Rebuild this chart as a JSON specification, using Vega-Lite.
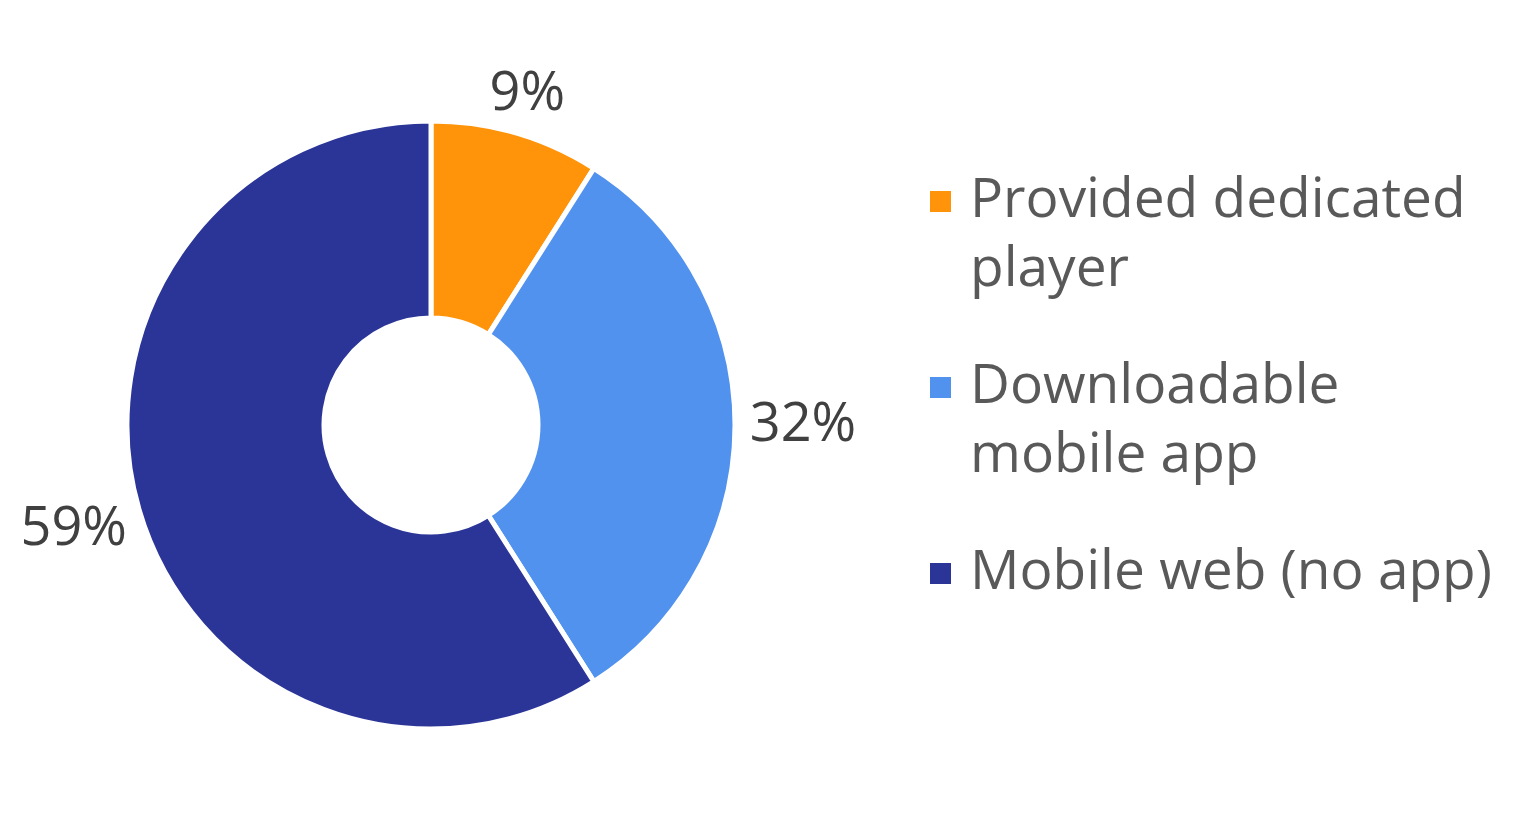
{
  "$schema": "https://vega.github.io/schema/vega-lite/v6.json",
  "width": 862,
  "height": 800,
  "padding": {"left": 0, "top": 25, "right": 0, "bottom": 0},
  "background": "white",
  "data": {
    "values": [
      {"category": "Provided dedicated player", "share": 0.09},
      {"category": "Downloadable mobile app", "share": 0.32},
      {"category": "Mobile web (no app)", "share": 0.59}
    ]
  },
  "encoding": {
    "theta": {"field": "share", "type": "quantitative", "stack": true},
    "order": {"field": "share", "type": "quantitative", "sort": "ascending"},
    "color": {
      "field": "category",
      "type": "nominal",
      "scale": {
        "domain": ["Provided dedicated player", "Downloadable mobile app", "Mobile web (no app)"],
        "range": ["#FF9309", "#5192EE", "#2B3598"]
      },
      "legend": {
        "title": null,
        "orient": "none",
        "legendX": 913,
        "legendY": 149,
        "symbolType": "square",
        "symbolSize": 441,
        "symbolStrokeWidth": 0,
        "labelFont": "Open Sans",
        "labelFontSize": 55,
        "labelColor": "#595959",
        "labelOffset": 2,
        "labelLimit": 0,
        "labelBaseline": "alphabetic",
        "rowPadding": 61,
        "labelExpr": "datum.label == 'Provided dedicated player' ? ['Provided dedicated', 'player'] : datum.label == 'Downloadable mobile app' ? ['Downloadable', 'mobile app'] : datum.label"
      }
    }
  },
  "layer": [
    {
      "mark": {"type": "arc", "outerRadius": 304, "innerRadius": 107, "stroke": "white", "strokeWidth": 5}
    },
    {
      "mark": {"type": "text", "radius": {"expr": "datum.share < 0.1 ? 345 : 372"}, "font": "Open Sans", "fontSize": 54},
      "encoding": {
        "text": {"field": "share", "type": "quantitative", "format": ".0%"},
        "color": {"value": "#404040"}
      }
    }
  ],
  "config": {
    "view": {"stroke": null},
    "style": {"guide-label": {"lineHeight": 69, "dy": 15}}
  }
}
